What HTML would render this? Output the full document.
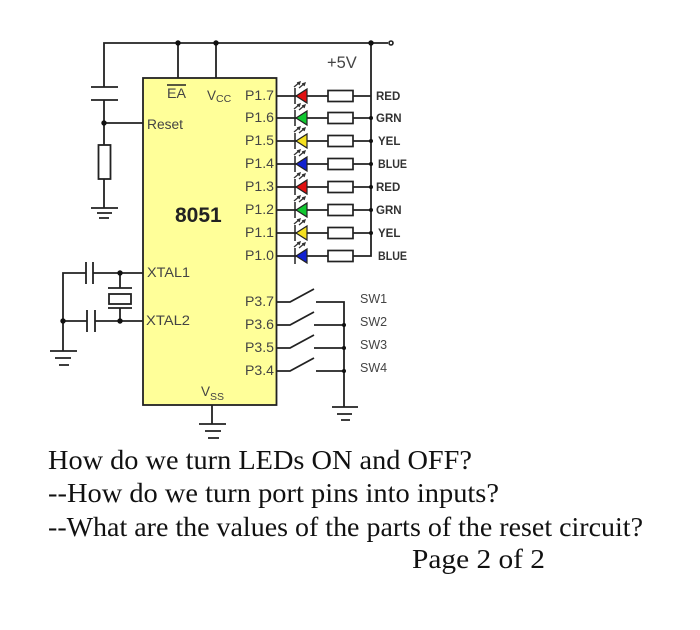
<!DOCTYPE html>
<html><head><meta charset="utf-8"><style>
html,body{margin:0;padding:0;background:#fff}
svg{display:block}
.a{font-family:"Liberation Sans",sans-serif;font-size:13.5px;fill:#444}
.s{font-family:"Liberation Sans",sans-serif;font-size:12.5px;fill:#444}
.b{font-family:"Liberation Sans",sans-serif;font-size:11.5px;font-weight:bold;fill:#333}
.t{font-family:"Liberation Serif",serif;font-size:27px;fill:#111}
.d{filter:blur(.35px)}
</style></head><body>
<svg width="700" height="630" viewBox="0 0 700 630" xmlns="http://www.w3.org/2000/svg">
<defs>
<g id="led"><path d="M295 -8V8" stroke="#222" stroke-width="1.5" fill="none"/><path d="M296 0L307 -7V7Z" stroke="#222" stroke-width="1.2"/><path d="M294 -9l6 -5m-3 1l3 -1l-1 3M299 -8l6 -5m-3 1l3 -1l-1 3" stroke="#333" stroke-width="1.3" fill="none"/></g>
<rect id="r" x="328" y="-5.5" width="25" height="11" fill="#fff" stroke="#222" stroke-width="1.7"/>
</defs>
<g class="d">
<rect x="143" y="78" width="133.500" height="327" fill="#ffff99" stroke="#222" stroke-width="1.8"/>
<g stroke="#222" stroke-width="1.8" fill="none">
<path d="M104 87V43H388M178 43V78M216 43V78M371 43V256H353"/>
<path d="M91 87H118M91 100H118M104 100V145M104 123H143M104 179V208M91 208H118M97 213H112M99 218H109" />
<rect x="98.500" y="145" width="12" height="34" fill="#fff"/>
<path d="M143 273H93M86 273H63V351M86 262V284M93 262V284M143 321H95M87 321H63M87 310V332M95 310V332M120 273V288M120 308V321M108 288H132M108 308H132"/>
<rect x="109" y="294" width="22" height="10" fill="#fff"/>
<path d="M50 351H77M55 358H71M59 365H69"/>
<path d="M277 302H290L314 289M316 302H344V407M277 325H290L314 312M314 325H344M277 348H290L314 335M314 348H344M277 371H290L314 358M316 371H344M332 407H358M337 414H352M341 420H350"/>
<path d="M212 405V424M199 424H226M205 431H221M208 438H219"/>
<path d="M276 96H371M276 118H371M276 141H371M276 164H371M276 187H371M276 210H371M276 233H371M276 256H353"/>
</g>
<circle cx="391" cy="43" r="2" fill="#fff" stroke="#222" stroke-width="1.600"/>
<g fill="#111">
<circle cx="178" cy="43" r="2.700"/><circle cx="216" cy="43" r="2.700"/><circle cx="371" cy="43" r="2.700"/>
<circle cx="104" cy="123" r="2.700"/><circle cx="120" cy="273" r="2.700"/><circle cx="120" cy="321" r="2.700"/><circle cx="63" cy="321" r="2.700"/>
<circle cx="344" cy="325" r="2"/><circle cx="344" cy="348" r="2"/><circle cx="344" cy="371" r="2"/>
<circle cx="371" cy="118" r="2"/><circle cx="371" cy="141" r="2"/><circle cx="371" cy="164" r="2"/><circle cx="371" cy="187" r="2"/><circle cx="371" cy="210" r="2"/><circle cx="371" cy="233" r="2"/>
</g>
<use href="#led" y="96" fill="#e01010"/><use href="#r" y="96"/>
<use href="#led" y="118" fill="#10c830"/><use href="#r" y="118"/>
<use href="#led" y="141" fill="#f5e020"/><use href="#r" y="141"/>
<use href="#led" y="164" fill="#1020d0"/><use href="#r" y="164"/>
<use href="#led" y="187" fill="#e01010"/><use href="#r" y="187"/>
<use href="#led" y="210" fill="#10c830"/><use href="#r" y="210"/>
<use href="#led" y="233" fill="#f5e020"/><use href="#r" y="233"/>
<use href="#led" y="256" fill="#1020d0"/><use href="#r" y="256"/>
<path d="M167 85H186" stroke="#222" stroke-width="1.500"/>
<text class="a" x="167" y="98" textLength="19" lengthAdjust="spacingAndGlyphs">EA</text>
<text class="a" x="207" y="100">V</text><text class="a" style="font-size:10.500px" x="216" y="102">CC</text>
<text class="a" x="147" y="129" textLength="36" lengthAdjust="spacingAndGlyphs">Reset</text>
<text class="a" x="245" y="100" textLength="29" lengthAdjust="spacingAndGlyphs">P1.7</text><text class="a" x="245" y="122" textLength="29" lengthAdjust="spacingAndGlyphs">P1.6</text><text class="a" x="245" y="145" textLength="29" lengthAdjust="spacingAndGlyphs">P1.5</text><text class="a" x="245" y="168" textLength="29" lengthAdjust="spacingAndGlyphs">P1.4</text>
<text class="a" x="245" y="191" textLength="29" lengthAdjust="spacingAndGlyphs">P1.3</text><text class="a" x="245" y="214" textLength="29" lengthAdjust="spacingAndGlyphs">P1.2</text><text class="a" x="245" y="237" textLength="29" lengthAdjust="spacingAndGlyphs">P1.1</text><text class="a" x="245" y="260" textLength="29" lengthAdjust="spacingAndGlyphs">P1.0</text>
<text class="a" x="245" y="306" textLength="29" lengthAdjust="spacingAndGlyphs">P3.7</text><text class="a" x="245" y="329" textLength="29" lengthAdjust="spacingAndGlyphs">P3.6</text><text class="a" x="245" y="352" textLength="29" lengthAdjust="spacingAndGlyphs">P3.5</text><text class="a" x="245" y="375" textLength="29" lengthAdjust="spacingAndGlyphs">P3.4</text>
<text class="a" x="147" y="277" textLength="43" lengthAdjust="spacingAndGlyphs">XTAL1</text><text class="a" x="146" y="325" textLength="44" lengthAdjust="spacingAndGlyphs">XTAL2</text>
<text class="a" x="201" y="396">V</text><text class="a" style="font-size:10.500px" x="210" y="400">SS</text>
<text x="175" y="222" style="font-family:'Liberation Sans',sans-serif;font-size:21px;font-weight:bold;fill:#222">8051</text>
<text class="a" style="font-size:16.500px" x="327" y="68">+5V</text>
<text class="b" x="376" y="100">RED</text><text class="b" x="376" y="122">GRN</text><text class="b" x="378" y="145">YEL</text><text class="b" x="378" y="168" textLength="29" lengthAdjust="spacingAndGlyphs">BLUE</text>
<text class="b" x="376" y="191">RED</text><text class="b" x="376" y="214">GRN</text><text class="b" x="378" y="237">YEL</text><text class="b" x="378" y="260" textLength="29" lengthAdjust="spacingAndGlyphs">BLUE</text>
<text class="s" x="360" y="303">SW1</text><text class="s" x="360" y="326">SW2</text><text class="s" x="360" y="349">SW3</text><text class="s" x="360" y="372">SW4</text>
</g>
<text class="t" x="48" y="469" textLength="424" lengthAdjust="spacingAndGlyphs">How do we turn LEDs ON and OFF?</text>
<text class="t" x="48" y="502" textLength="451" lengthAdjust="spacingAndGlyphs">--How do we turn port pins into inputs?</text>
<text class="t" x="48" y="536" textLength="595" lengthAdjust="spacingAndGlyphs">--What are the values of the parts of the reset circuit?</text>
<text class="t" x="412" y="568" textLength="133" lengthAdjust="spacingAndGlyphs">Page 2 of 2</text>
</svg>
</body></html>
